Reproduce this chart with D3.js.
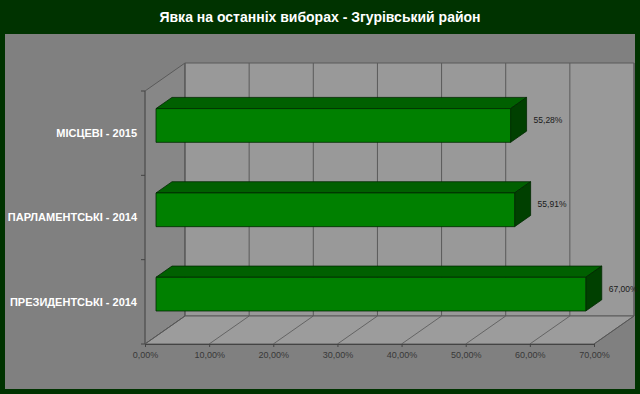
<!DOCTYPE html>
<head>
    <meta charset="utf-8">
    <title>Явка на останніх виборах</title>
    <style>
        body { margin: 0; background: #003300; }
        text { font-family: Arial, "Liberation Sans", sans-serif; }
    </style>
</head>

<script src="https://d3js.org/d3.v7.min.js"></script>

<div id="my_dataviz"></div>

<script>

    // data
    var categories = ["МІСЦЕВІ - 2015", "ПАРЛАМЕНТСЬКІ - 2014", "ПРЕЗИДЕНТСЬКІ - 2014"];
    var turnout = [55.28, 55.91, 67.00];
    var tickValues = [0, 10, 20, 30, 40, 50, 60, 70];
    var title = "Явка на останніх виборах - Згурівський район";

    var W = 640, H = 394;

    // front plane of the 3d box and depth offset
    var front = {left: 145, top: 91, bottom: 344, width: 449},
        depth = {dx: 40, dy: -28},
        barDepth = [0.275, 0.675];

    var svg = d3.select("#my_dataviz")
      .append("svg")
      .attr("width", W)
      .attr("height", H);

    svg.append("rect")
        .attr("width", W).attr("height", H)
        .style("fill", "#003300");

    // chart panel
    svg.append("rect")
        .attr("x", 5).attr("y", 34)
        .attr("width", 630).attr("height", 355)
        .style("fill", "#808080");

    svg.append("text")
        .attr("x", W / 2)
        .attr("y", 22)
        .attr("text-anchor", "middle")
        .style("font-size", "14px")
        .style("font-weight", "bold")
        .style("fill", "white")
        .text(title);

    var x = d3.scaleLinear()
      .domain([0, 70])
      .range([front.left, front.left + front.width]);

    var y = d3.scaleBand()
      .domain(categories)
      .range([front.top, front.bottom])
      .paddingInner(0.6)
      .paddingOuter(0.3);

    // project a point of the front plane back by depth fraction t
    function P(px, py, t) {
        return [px + t * depth.dx, py + t * depth.dy];
    }
    function poly(pts) {
        return pts.map(function (p) { return p.join(","); }).join(" ");
    }

    var x0 = x(0), x1 = x(70), yT = front.top, yB = front.bottom;

    // left wall
    svg.append("polygon")
        .attr("points", poly([P(x0, yT, 0), P(x0, yT, 1), P(x0, yB, 1), P(x0, yB, 0)]))
        .style("fill", "#878787")
        .style("stroke", "#5a5a5a")
        .style("stroke-width", 1);

    // back wall
    svg.append("polygon")
        .attr("points", poly([P(x0, yT, 1), P(x1, yT, 1), P(x1, yB, 1), P(x0, yB, 1)]))
        .style("fill", "#999999")
        .style("stroke", "#5a5a5a")
        .style("stroke-width", 1);

    // floor
    svg.append("polygon")
        .attr("points", poly([P(x0, yB, 0), P(x1, yB, 0), P(x1, yB, 1), P(x0, yB, 1)]))
        .style("fill", "#9c9c9c")
        .style("stroke", "#5a5a5a")
        .style("stroke-width", 1);

    // back wall gridlines
    svg.append("g")
      .selectAll("line")
      .data(tickValues)
      .enter()
      .append("line")
        .attr("x1", function (d) { return P(x(d), yT, 1)[0]; })
        .attr("y1", function (d) { return P(x(d), yT, 1)[1]; })
        .attr("x2", function (d) { return P(x(d), yB, 1)[0]; })
        .attr("y2", function (d) { return P(x(d), yB, 1)[1]; })
        .style("stroke", "#5a5a5a")
        .style("stroke-width", 1);

    // floor gridlines
    svg.append("g")
      .selectAll("line")
      .data(tickValues)
      .enter()
      .append("line")
        .attr("x1", function (d) { return x(d); })
        .attr("y1", yB)
        .attr("x2", function (d) { return P(x(d), yB, 1)[0]; })
        .attr("y2", function (d) { return P(x(d), yB, 1)[1]; })
        .style("stroke", "#555")
        .style("stroke-width", 0.8);

    // value axis on the front edge of the floor
    var locale = d3.formatLocale({decimal: ",", thousands: " ", grouping: [3], currency: ["", ""]});
    var fmt = locale.format(".2f");

    var xAxis = svg.append("g")
      .attr("transform", "translate(0," + yB + ")")
      .call(d3.axisBottom(x).tickValues(tickValues).tickSize(3).tickPadding(5)
            .tickFormat(function (d) { return fmt(d) + "%"; }));
    xAxis.select(".domain").style("stroke", "#444");
    xAxis.selectAll(".tick line").style("stroke", "#444");
    xAxis.selectAll("text")
        .style("font-size", "9px")
        .style("font-family", "Arial, 'Liberation Sans', sans-serif")
        .style("fill", "#383838");

    // category axis on the front left edge
    svg.append("line")
        .attr("x1", x0).attr("x2", x0)
        .attr("y1", yT).attr("y2", yB)
        .style("stroke", "#555");

    svg.append("g")
      .selectAll("line")
      .data(d3.range(categories.length + 1))
      .enter()
      .append("line")
        .attr("x1", x0 - 4).attr("x2", x0)
        .attr("y1", function (i) { return yT + i * y.step(); })
        .attr("y2", function (i) { return yT + i * y.step(); })
        .style("stroke", "#444");

    svg.append("g")
      .selectAll("text")
      .data(categories)
      .enter()
      .append("text")
        .attr("x", 137)
        .attr("y", function (d) { return y(d) + y.bandwidth() / 2; })
        .attr("dy", "0.36em")
        .attr("text-anchor", "end")
        .style("font-size", "11px")
        .style("font-weight", "bold")
        .style("fill", "white")
        .text(function (d) { return d; });

    // 3d bars
    var rows = categories.map(function (c, i) { return {cat: c, value: turnout[i]}; });
    var d0 = barDepth[0], d1 = barDepth[1];

    var bars = svg.append("g")
      .selectAll("g")
      .data(rows)
      .enter()
      .append("g");

    bars.append("polygon")
        .attr("points", function (d) {
            var a = x(0), b = x(d.value), t = y(d.cat);
            return poly([P(a, t, d0), P(b, t, d0), P(b, t, d1), P(a, t, d1)]);
        })
        .style("fill", "#006000");

    bars.append("polygon")
        .attr("points", function (d) {
            var b = x(d.value), t = y(d.cat), u = t + y.bandwidth();
            return poly([P(b, t, d0), P(b, t, d1), P(b, u, d1), P(b, u, d0)]);
        })
        .style("fill", "#004000");

    bars.append("polygon")
        .attr("points", function (d) {
            var a = x(0), b = x(d.value), t = y(d.cat), u = t + y.bandwidth();
            return poly([P(a, t, d0), P(b, t, d0), P(b, u, d0), P(a, u, d0)]);
        })
        .style("fill", "#008000");

    bars.selectAll("polygon")
        .style("stroke", "#002800")
        .style("stroke-width", 0.8)
        .style("stroke-linejoin", "round");

    bars.append("text")
        .attr("x", function (d) { return P(x(d.value), 0, d1)[0] + 7; })
        .attr("y", function (d) { return P(0, y(d.cat) + y.bandwidth() / 2, (d0 + d1) / 2)[1]; })
        .attr("dy", "0.36em")
        .style("font-size", "8.5px")
        .style("fill", "#1a1a1a")
        .text(function (d) { return fmt(d.value) + "%"; });

</script>
